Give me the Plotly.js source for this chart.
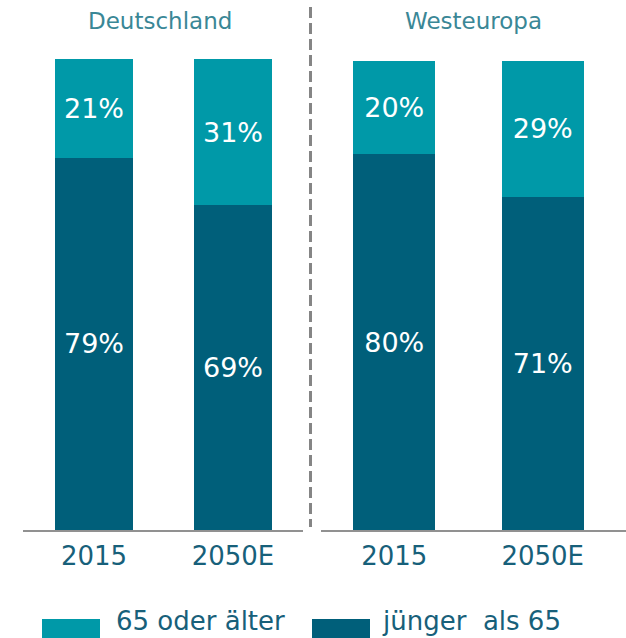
<!DOCTYPE html>
<html>
<head>
<meta charset="utf-8">
<script src="https://cdn.plot.ly/plotly-3.0.1.min.js"></script>
<style>
html,body{margin:0;padding:0;background:#fff;}
#chart{width:626px;height:638px;}
</style>
</head>
<body>
<div id="chart"></div>
<script>
// ---- data ----
var categories = ['2015', '2050E'];
var panelTitles = ['Deutschland', 'Westeuropa'];
var seriesNames = ['65 oder älter', 'jünger  als 65'];
var deYoung = [79, 69];
var deOld = [21, 31];
var weYoung = [80, 71];
var weOld = [20, 29];

// ---- styles ----
var W = 626, H = 638;
var cLight = '#0099A8';
var cDark = '#005F7A';
var FONT = 'DejaVu Sans, Verdana, sans-serif';
function px(x){ return x / W; }
function py(y){ return (H - y) / H; }
function pct(a){ return a.map(function(v){ return v + '%'; }); }

function bar(y, name, color, xa, ya){
  return {
    type: 'bar', x: categories, y: y, name: name,
    xaxis: xa, yaxis: ya, showlegend: false,
    marker: {color: color, line: {width: 0}},
    text: pct(y), textposition: 'inside', insidetextanchor: 'middle',
    textfont: {family: FONT, size: 27, color: '#ffffff'},
    hoverinfo: 'skip', cliponaxis: false
  };
}

var data = [
  bar(deYoung, seriesNames[1], cDark, 'x', 'y'),
  bar(deOld, seriesNames[0], cLight, 'x', 'y'),
  bar(weYoung, seriesNames[1], cDark, 'x2', 'y2'),
  bar(weOld, seriesNames[0], cLight, 'x2', 'y2')
];

var xCommon = {
  type: 'category', range: [-0.5, 1.5], showgrid: false, zeroline: false,
  showline: false, ticks: '', ticklabelstandoff: 8,
  tickfont: {family: FONT, size: 26, color: '#17607A'}, fixedrange: true
};
var yCommon = {
  range: [0, 100], showgrid: false, zeroline: false, showline: false,
  showticklabels: false, ticks: '', fixedrange: true
};

var layout = {
  width: W, height: H,
  margin: {l: 0, r: 0, t: 0, b: 0, pad: 0},
  paper_bgcolor: '#ffffff', plot_bgcolor: 'rgba(0,0,0,0)',
  barmode: 'stack', bargap: 0.445,
  showlegend: false,
  font: {family: FONT},
  xaxis: Object.assign({}, xCommon, {domain: [px(24.5), px(302.5)], anchor: 'y'}),
  yaxis: Object.assign({}, yCommon, {domain: [py(530), py(59)], anchor: 'x'}),
  xaxis2: Object.assign({}, xCommon, {domain: [px(320), px(617)], anchor: 'y2'}),
  yaxis2: Object.assign({}, yCommon, {domain: [py(530), py(60.5)], anchor: 'x2'}),
  shapes: [
    // baselines
    {type: 'line', xref: 'paper', yref: 'paper', x0: px(23), x1: px(303), y0: py(531), y1: py(531),
     line: {color: '#919191', width: 2}},
    {type: 'line', xref: 'paper', yref: 'paper', x0: px(321), x1: px(626), y0: py(531), y1: py(531),
     line: {color: '#919191', width: 2}},
    // dashed divider
    {type: 'line', xref: 'paper', yref: 'paper', x0: px(310.5), x1: px(310.5), y0: py(7), y1: py(527),
     line: {color: '#858585', width: 3, dash: '11px,5px'}},
    // legend swatches
    {type: 'rect', xref: 'paper', yref: 'paper', x0: px(42), x1: px(100), y0: py(619), y1: py(645),
     fillcolor: cLight, line: {width: 0}},
    {type: 'rect', xref: 'paper', yref: 'paper', x0: px(312), x1: px(370), y0: py(619), y1: py(645),
     fillcolor: cDark, line: {width: 0}}
  ],
  annotations: [
    {text: panelTitles[0], xref: 'paper', yref: 'paper', x: px(160), y: py(21),
     xanchor: 'center', yanchor: 'middle', showarrow: false,
     font: {family: FONT, size: 23, color: '#3A8796'}},
    {text: panelTitles[1], xref: 'paper', yref: 'paper', x: px(473), y: py(21),
     xanchor: 'center', yanchor: 'middle', showarrow: false,
     font: {family: FONT, size: 23, color: '#3A8796'}},
    {text: seriesNames[0], xref: 'paper', yref: 'paper', x: px(114), y: py(621),
     xanchor: 'left', yanchor: 'middle', showarrow: false,
     font: {family: FONT, size: 26, color: '#17607A'}},
    {text: seriesNames[1], xref: 'paper', yref: 'paper', x: px(380), y: py(621),
     xanchor: 'left', yanchor: 'middle', showarrow: false,
     font: {family: FONT, size: 26, color: '#17607A'}}
  ]
};

Plotly.newPlot('chart', data, layout, {displayModeBar: false, staticPlot: true});
</script>
</body>
</html>
